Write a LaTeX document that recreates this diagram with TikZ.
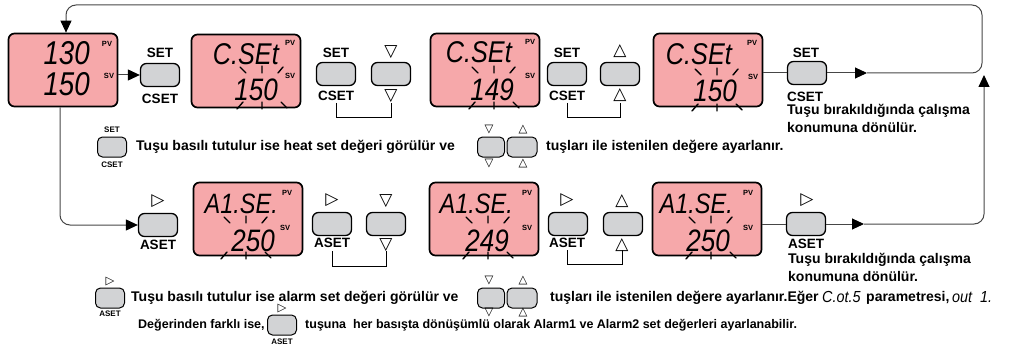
\documentclass[tikz,border=0pt]{standalone}
\usepackage{fontspec}
\setmainfont{Liberation Sans}
\newfontfamily\symf{DejaVu Sans}
\usetikzlibrary{arrows.meta}
\definecolor{lcdpink}{RGB}{246,168,170}
\definecolor{keygray}{RGB}{210,211,213}
\definecolor{linegray}{RGB}{70,70,70}
\newcommand\segt[2]{\scalebox{0.84}[1]{\fontsize{#1}{#1}\selectfont\itshape #2}}
\newcommand\segs[1]{\scalebox{0.9}[1]{\fontsize{16}{16}\selectfont\mdseries\itshape #1}}
\begin{document}
\begin{tikzpicture}[x=1pt,y=-1pt,
 disp/.style={draw=black, line width=1.7pt, fill=lcdpink, rounded corners=6pt, minimum width=109pt, minimum height=73pt, inner sep=0pt},
 key/.style={draw=black, line width=1.3pt, fill=keygray, rounded corners=6pt, minimum width=39pt, minimum height=23pt, inner sep=0pt},
 skey/.style={key, line width=1pt, minimum width=29pt, minimum height=20pt, rounded corners=5pt},
 klbl/.style={font=\fontsize{13.5}{13.5}\selectfont\bfseries, inner sep=0pt},
 slbl/.style={font=\fontsize{8}{8}\selectfont\bfseries, inner sep=0pt},
 tri/.style={font=\symf\fontsize{17}{17}\selectfont, inner sep=0pt},
 stri/.style={font=\symf\fontsize{11.5}{11.5}\selectfont, inner sep=0pt},
 body/.style={font=\fontsize{14}{16}\selectfont\bfseries, inner sep=0pt, anchor=west},
 bodys/.style={body, font=\fontsize{12.5}{15}\selectfont\bfseries},
 pvl/.style={font=\fontsize{7.5}{7.5}\selectfont\bfseries, inner sep=0pt},
 seg/.style={inner sep=0pt, anchor=base east},
 conn/.style={draw=linegray, line width=1pt},
 brk/.style={draw=black, line width=1pt},
 tip/.style={-{Triangle[length=12pt,width=11pt,color=black]}},
 flash/.pic={\draw[line width=1.4pt, line cap=round]
   (-22,-8)--(-16,-2) (0,-9)--(0,-2) (21,-8)--(16,-2)
   (-25,34)--(-19,27) (0,27)--(0,34) (19,27)--(25,33);}
]
\useasboundingbox (0,0) rectangle (1019,350);

% ---------- displays ----------
\node[disp] (d1) at (63,70) {};
\node[disp] (d2) at (246,71) {};
\node[disp] (d3) at (485,70) {};
\node[disp] (d4) at (708,70) {};
\node[disp] (d5) at (248,219) {};
\node[disp] (d6) at (484,219) {};
\node[disp] (d7) at (707,219) {};

\node[seg] (d1a) at (90,65) {\segt{33}{130}};
\node[seg] (d1b) at (90,96) {\segt{33}{150}};
\node[pvl] (d1p) at (107,44) {PV};
\node[pvl] (d1s) at (109,76) {SV};

\node[seg] (d2a) at (279,65) {\segt{30}{C.SEt}};
\node[seg] (d2b) at (278,101) {\segt{31}{150}};
\node[pvl] (d2p) at (290,43) {PV};
\node[pvl] (d2s) at (290,76) {SV};

\node[seg] (d3a) at (512,63) {\segt{30}{C.SEt}};
\node[seg] (d3b) at (514,101) {\segt{31}{149}};
\node[pvl] (d3p) at (530,42) {PV};
\node[pvl] (d3s) at (530,76) {SV};

\node[seg] (d4a) at (732,65) {\segt{30}{C.SEt}};
\node[seg] (d4b) at (737,102) {\segt{31}{150}};
\node[pvl] (d4p) at (752,43) {PV};
\node[pvl] (d4s) at (753,77) {SV};

\node[seg] (d5a) at (278,213) {\segt{28}{A1.SE.}};
\node[seg] (d5b) at (275,251) {\segt{31}{250}};
\node[pvl] (d5p) at (287,193) {PV};
\node[pvl] (d5s) at (285,228) {SV};

\node[seg] (d6a) at (513,213) {\segt{28}{A1.SE.}};
\node[seg] (d6b) at (509,251) {\segt{31}{249}};
\node[pvl] (d6p) at (527,193) {PV};
\node[pvl] (d6s) at (527,228) {SV};

\node[seg] (d7a) at (733,213) {\segt{28}{A1.SE.}};
\node[seg] (d7b) at (730,251) {\segt{31}{250}};
\node[pvl] (d7p) at (748,193) {PV};
\node[pvl] (d7s) at (748,228) {SV};

\pic at (262,75) {flash};
\pic at (494,75) {flash};
\pic at (717,77) {flash};
\pic at (246,225) {flash};
\pic at (488,225) {flash};
\pic at (711,225) {flash};

% ---------- top row keys ----------
\node[key] (k1) at (160,75) {};
\node[klbl] (k1t) at (160,53) {SET};
\node[klbl] (k1b) at (160,99) {CSET};

\node[key] (k2) at (336,74) {};
\node[klbl] (k2t) at (336,53) {SET};
\node[klbl] (k2b) at (336,96) {CSET};
\node[key] (k3) at (391,74) {};
\node[tri] (k3t) at (391,52) {▽};
\node[tri] (k3b) at (391,96) {▽};
\draw[brk] (k2b.south |- 0,103) -- (k2b.south |- 0,118) -| (k3b.south |- 0,103);

\node[key] (k4) at (567,74) {};
\node[klbl] (k4t) at (567,53) {SET};
\node[klbl] (k4b) at (567,96) {CSET};
\node[key] (k5) at (620,74) {};
\node[tri] (k5t) at (620,51) {△};
\node[tri] (k5b) at (620,95) {△};
\draw[brk] (k4b.south |- 0,103) -- (k4b.south |- 0,118) -| (k5b.south |- 0,103);

\node[key] (k6) at (807,73) {};
\node[klbl] (k6t) at (806,53) {SET};
\node[klbl, anchor=west] (k6b) at (787,97) {CSET};
\node[body] (k6c) at (787,111) {Tuşu bırakıldığında çalışma};
\node[body] (k6d) at (787,127) {konumuna dönülür.};

% ---------- second row keys ----------
\node[key] (a1) at (158,225) {};
\node[tri] (a1t) at (158,201) {▷};
\node[klbl] (a1b) at (158,245) {ASET};

\node[key] (a2) at (332,224) {};
\node[tri] (a2t) at (332,200) {▷};
\node[klbl] (a2b) at (332,243) {ASET};
\node[key] (a3) at (386,224) {};
\node[tri] (a3t) at (386,201) {▽};
\node[tri] (a3b) at (386,245) {▽};
\draw[brk] (a2b.south |- 0,251) -- (a2b.south |- 0,266) -| (a3b.south |- 0,251);

\node[key] (a4) at (568,224) {};
\node[tri] (a4t) at (567,200) {▷};
\node[klbl] (a4b) at (567,243) {ASET};
\node[key] (a5) at (623,224) {};
\node[tri] (a5t) at (622,201) {△};
\node[tri] (a5b) at (622,245) {△};
\draw[brk] (a4b.south |- 0,250) -- (a4b.south |- 0,264) -| (a5b.south |- 0,250);

\node[key] (a6) at (806,224) {};
\node[tri] (a6t) at (807,200) {▷};
\node[klbl, anchor=west] (a6b) at (788,244) {ASET};
\node[body] (a6c) at (788,260) {Tuşu bırakıldığında çalışma};
\node[body] (a6d) at (788,276) {konumuna dönülür.};

% ---------- connectors ----------
\coordinate (c1) at (867,73);
\coordinate (c2) at (864,224);
\coordinate (c3) at (984,75);
\draw[conn, tip] (d1.east |- k1) -- (k1.west);
\draw[conn] (d4.east |- k6) -- (k6.west);
\draw[conn, tip] (k6.east) -- (c1);
\draw[conn, tip, rounded corners=10pt] (c1) -- (982,73) -- (982,5) -- (66,5) -- ([xshift=3pt]d1.north);
\draw[conn, tip, rounded corners=10pt] ([xshift=-3pt]d1.south) |- (a1.west);
\draw[conn] (d7.east |- a6) -- (a6.west);
\draw[conn, tip] (a6.east) -- (c2);
\draw[conn, tip, rounded corners=10pt] (c2) -- (c2 -| c3) -- (c3);

% ---------- text line 1 ----------
\node[slbl] (t1t) at (112,130) {SET};
\node[skey] (t1k) at (112,147) {};
\node[slbl] (t1b) at (112,165) {CSET};
\node[body] (t1a) at (136,147) {Tuşu basılı tutulur ise heat set değeri görülür ve};
\node[skey, minimum width=27pt] (t1d) at (491,147) {};
\node[skey, minimum width=30pt] (t1u) at (522,147) {};
\node[stri] (t1dt) at (489,130) {▽};
\node[stri] (t1db) at (489,164) {▽};
\node[stri] (t1ut) at (523,130) {△};
\node[stri] (t1ub) at (523,164) {△};
\node[body] (t1c) at (546,147) {tuşları ile istenilen değere ayarlanır.};

% ---------- text line 2 ----------
\node[stri] (t2t) at (110,282) {▷};
\node[skey] (t2k) at (110,298) {};
\node[slbl] (t2b) at (110,314) {ASET};
\node[body] (t2a) at (131,298) {Tuşu basılı tutulur ise alarm set değeri görülür ve};
\node[skey, minimum width=27pt] (t2d) at (491,298) {};
\node[skey, minimum width=30pt] (t2u) at (522,298) {};
\node[stri] (t2dt) at (489,281) {▽};
\node[stri] (t2db) at (489,313) {▽};
\node[stri] (t2ut) at (523,281) {△};
\node[stri] (t2ub) at (523,313) {△};
\node[body] (t2c) at (550,298) {tuşları ile istenilen değere ayarlanır.Eğer};
\node[body] (t2s1) at (822,297) {\segs{C.ot.5}};
\node[body] (t2e) at (866,298) {parametresi,};
\node[body] (t2s2) at (952,297) {\segs{out\ \ 1.}};

% ---------- text line 3 ----------
\node[bodys] (t3a) at (138,325) {Değerinden farklı ise,};
\node[skey] (t3k) at (282,325) {};
\node[stri] (t3t) at (282,309) {▷};
\node[slbl] (t3b) at (282,342) {ASET};
\node[bodys] (t3c) at (305,325) {tuşuna\ \ her basışta dönüşümlü olarak Alarm1 ve Alarm2 set değerleri ayarlanabilir.};
\end{tikzpicture}
\end{document}
